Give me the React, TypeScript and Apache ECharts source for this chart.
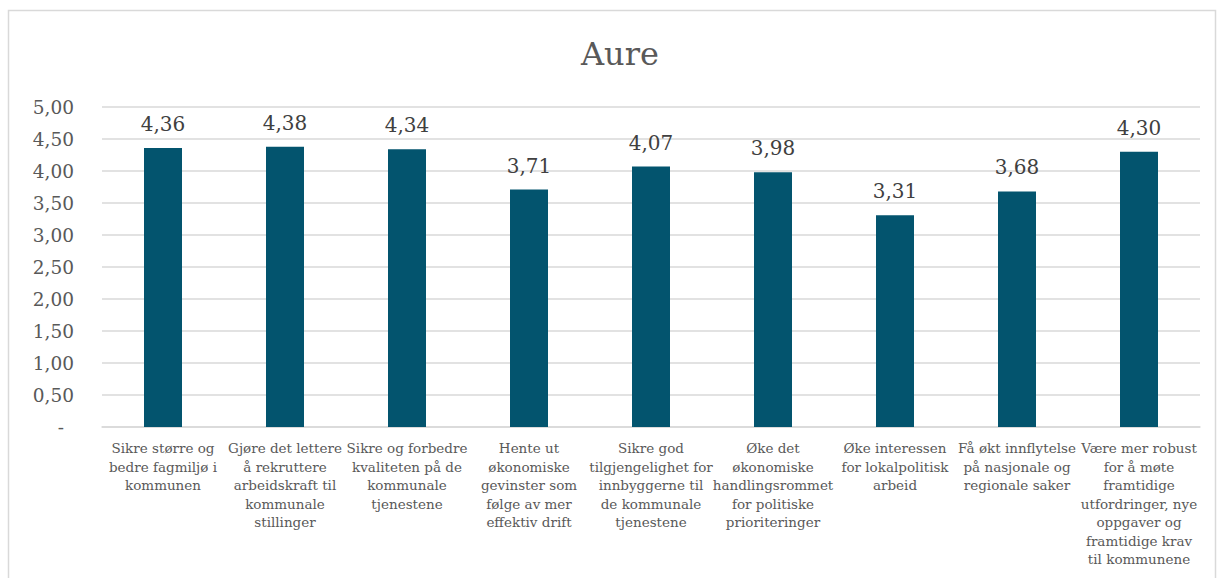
import React, { useEffect, useRef } from "react";
import * as echarts from "echarts";

const title = "Aure";
const categories = [
  "Sikre større og\nbedre fagmiljø i\nkommunen",
  "Gjøre det lettere\nå rekruttere\narbeidskraft til\nkommunale\nstillinger",
  "Sikre og forbedre\nkvaliteten på de\nkommunale\ntjenestene",
  "Hente ut\nøkonomiske\ngevinster som\nfølge av mer\neffektiv drift",
  "Sikre god\ntilgjengelighet for\ninnbyggerne til\nde kommunale\ntjenestene",
  "Øke det\nøkonomiske\nhandlingsrommet\nfor politiske\nprioriteringer",
  "Øke interessen\nfor lokalpolitisk\narbeid",
  "Få økt innflytelse\npå nasjonale og\nregionale saker",
  "Være mer robust\nfor å møte\nframtidige\nutfordringer, nye\noppgaver og\nframtidige krav\ntil kommunene",
];
const values = [4.36, 4.38, 4.34, 3.71, 4.07, 3.98, 3.31, 3.68, 4.3];
const yMin = 0;
const yMax = 5;
const yStep = 0.5;

const FONT = "DejaVu Serif";
const fmt = (v: number) => v.toFixed(2).replace(".", ",");

export default function App() {
  const ref = useRef<HTMLDivElement>(null);
  useEffect(() => {
    if (!ref.current) return;
    const chart = echarts.init(ref.current, null, { renderer: "svg" });
    chart.setOption({
      animation: false,
      backgroundColor: "#ffffff",
      title: {
        text: title,
        left: 576,
        top: 33,
        textStyle: { fontFamily: FONT, fontSize: 32, fontWeight: "normal", color: "#595959" },
      },
      graphic: [
        {
          type: "rect",
          shape: { x: 8.5, y: 10.5, width: 1207, height: 600 },
          style: { fill: "none", stroke: "#d9d9d9", lineWidth: 1.5 },
          silent: true,
        },
      ],
      grid: { left: 102, right: 17, top: 107, bottom: 151, containLabel: false },
      xAxis: {
        type: "category",
        data: categories,
        axisTick: { show: false },
        axisLine: { lineStyle: { color: "#d9d9d9", width: 1.5 } },
        axisLabel: {
          interval: 0,
          margin: 12,
          fontFamily: FONT,
          fontSize: 13.5,
          lineHeight: 18.5,
          color: "#595959",
          align: "center",
        },
      },
      yAxis: {
        type: "value",
        min: yMin,
        max: yMax,
        interval: yStep,
        axisLine: { show: false },
        axisTick: { show: false },
        splitLine: { lineStyle: { color: "#d9d9d9", width: 1.5 } },
        axisLabel: {
          margin: 28,
          fontFamily: FONT,
          fontSize: 18.5,
          color: "#595959",
          formatter: (v: number) => (v === 0 ? "{d|-}" : fmt(v)),
          rich: { d: { fontFamily: FONT, fontSize: 18.5, color: "#595959", padding: [0, 10, 0, 0] } },
        },
      },
      series: [
        {
          type: "bar",
          data: values,
          barWidth: 38,
          itemStyle: { color: "#03546e" },
          label: {
            show: true,
            position: "top",
            distance: 14,
            fontFamily: FONT,
            fontSize: 20,
            color: "#404040",
            formatter: (p: any) => fmt(p.value),
          },
        },
      ],
    });
    return () => chart.dispose();
  }, []);
  return (
    <div
      ref={ref}
      style={{ position: "absolute", left: 0, top: 0, width: 1217, height: 578 }}
    />
  );
}
